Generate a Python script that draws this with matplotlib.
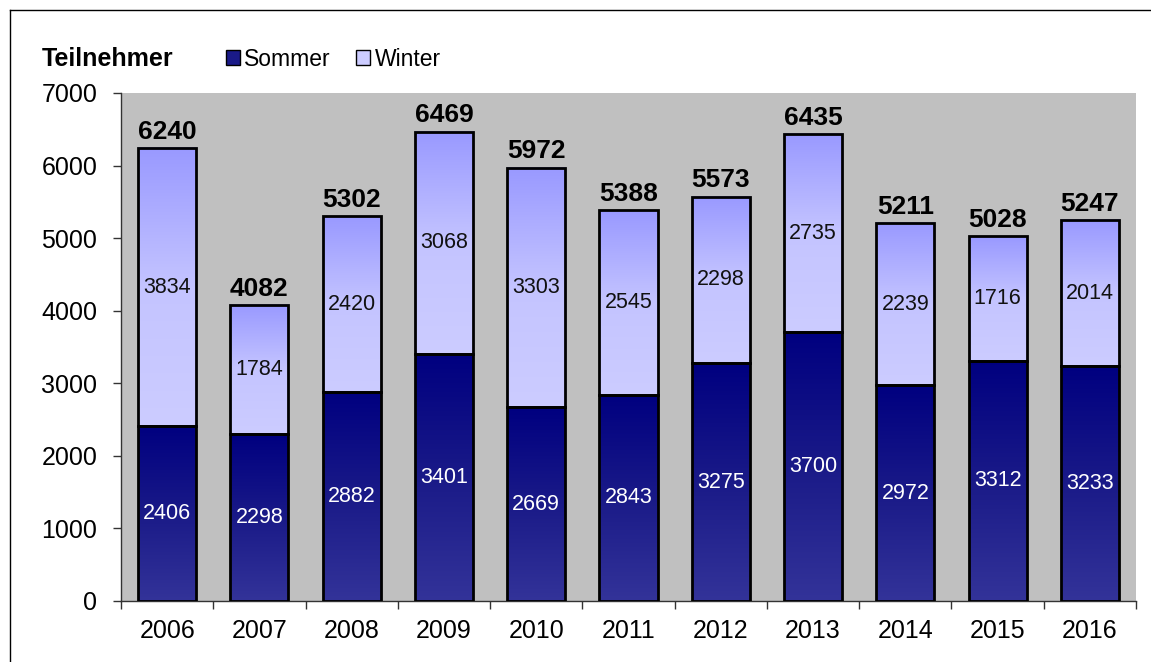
import numpy as np
import matplotlib
matplotlib.use("Agg")
import matplotlib.pyplot as plt
from matplotlib.colors import LinearSegmentedColormap
from matplotlib.patches import Patch
from matplotlib.lines import Line2D

years = ["2006", "2007", "2008", "2009", "2010", "2011", "2012", "2013", "2014", "2015", "2016"]
sommer = [2406, 2298, 2882, 3401, 2669, 2843, 3275, 3700, 2972, 3312, 3233]
winter = [3834, 1784, 2420, 3068, 3303, 2545, 2298, 2735, 2239, 1716, 2014]
totals = [6240, 4082, 5302, 6469, 5972, 5388, 5573, 6435, 5211, 5028, 5247]

plt.rcParams['font.family'] = ['Liberation Sans', 'DejaVu Sans']

W, H = 1151, 662
fig = plt.figure(figsize=(W / 100, H / 100), dpi=100)
ax = fig.add_axes([121 / W, 61 / H, (1136 - 121) / W, (601 - 93) / H])
ax.set_facecolor("#C0C0C0")

x = np.arange(len(years))
bw = 0.63

# colour ramps: index 0 = bottom of segment, 1 = top
cm_sommer = LinearSegmentedColormap.from_list("s", ["#333399", "#1a1a88", "#000080"])
cm_winter = LinearSegmentedColormap.from_list("w", ["#CCCCFF", "#C4C4FF", "#9999FF"])
grad = np.linspace(0, 1, 256).reshape(-1, 1)

bars_s = ax.bar(x, sommer, bw, facecolor="none", edgecolor="black", linewidth=2, zorder=3)
bars_w = ax.bar(x, winter, bw, bottom=sommer, facecolor="none", edgecolor="black", linewidth=2, zorder=3)

# gradient fills inside each bar segment
for bars, cm in ((bars_s, cm_sommer), (bars_w, cm_winter)):
    for r in bars:
        x0, y0 = r.get_x(), r.get_y()
        ax.imshow(grad, extent=[x0, x0 + r.get_width(), y0, y0 + r.get_height()],
                  origin="lower", aspect="auto", cmap=cm, zorder=2, interpolation="bilinear")

for i in range(len(years)):
    ax.text(x[i], sommer[i] / 2, str(sommer[i]), ha="center", va="center",
            color="white", fontsize=15.5, zorder=4)
    ax.text(x[i], sommer[i] + winter[i] / 2, str(winter[i]), ha="center", va="center",
            color="#111111", fontsize=15.5, zorder=4)
    ax.annotate(str(totals[i]), (x[i], totals[i]), xytext=(0, 3), textcoords="offset points",
                ha="center", va="bottom", fontsize=19, fontweight="bold", zorder=4)

ax.set_xlim(-0.5, len(years) - 0.5)
ax.set_ylim(0, 7000)
ax.set_yticks(range(0, 7001, 1000))
ax.tick_params(axis="y", labelsize=18, length=6, width=1, color="#333333", pad=11)
ax.set_xticks(x)
ax.set_xticklabels(years)
ax.tick_params(axis="x", which="major", labelsize=18, length=0, pad=13)
ax.set_xticks(np.arange(-0.5, len(years)), minor=True)
ax.tick_params(axis="x", which="minor", length=6, width=1, color="#333333")

for s in ("top", "right"):
    ax.spines[s].set_visible(False)
for s in ("left", "bottom"):
    ax.spines[s].set_color("#333333")
    ax.spines[s].set_linewidth(1)

fig.text(42 / W, 1 - 59 / H, "Teilnehmer", fontsize=18, fontweight="bold", va="center", ha="left")

handles = [Patch(facecolor="#1a1a88", edgecolor="black", label="Sommer"),
           Patch(facecolor="#CCCCFF", edgecolor="black", label="Winter")]
fig.legend(handles=handles, loc="center left", bbox_to_anchor=(226 / W, 1 - 59 / H), ncol=2,
           frameon=False, fontsize=16.5, handlelength=0.6, handleheight=0.6,
           handletextpad=0.2, columnspacing=1.1, borderaxespad=0, borderpad=0)

# outer frame (top and left edges visible)
fig.add_artist(Line2D([10 / W, 1], [1 - 10 / H, 1 - 10 / H], transform=fig.transFigure, color="black", lw=1))
fig.add_artist(Line2D([10 / W, 10 / W], [0, 1 - 10 / H], transform=fig.transFigure, color="black", lw=1))

fig.savefig("out.png", dpi=100)
